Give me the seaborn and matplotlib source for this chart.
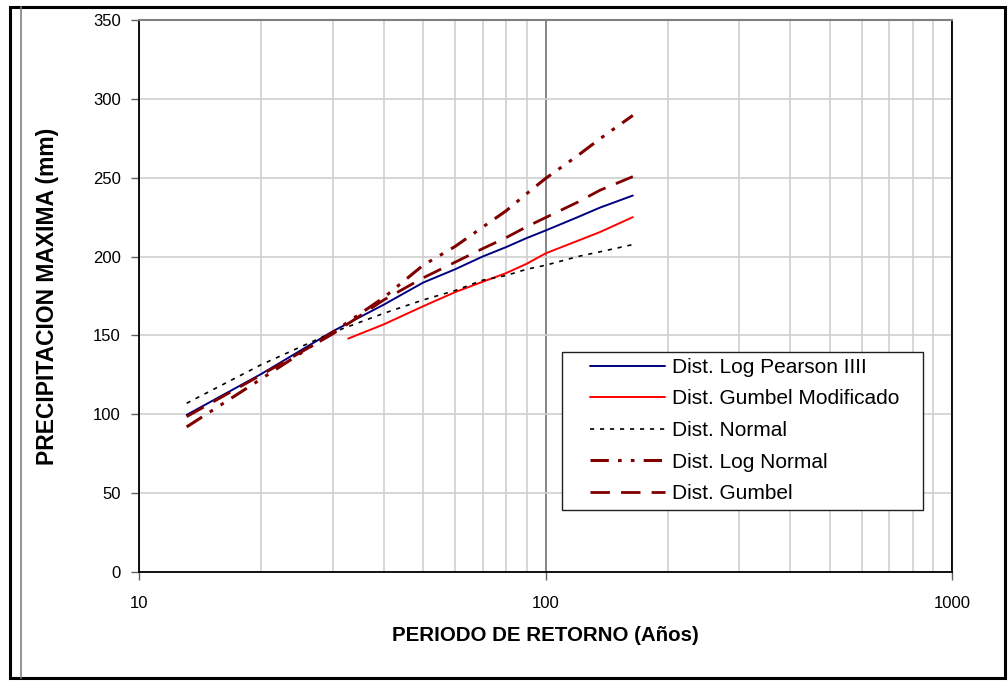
import matplotlib
matplotlib.use("Agg")
import matplotlib.pyplot as plt
from matplotlib.lines import Line2D
from matplotlib.patches import Rectangle
from matplotlib.ticker import FixedLocator, NullFormatter, LogLocator
import seaborn as sns
import pandas as pd

# ---- data ----
T = [13.1, 20, 30, 40, 50, 60, 70, 80, 90, 100, 120, 136, 164]
log_pearson = [99.6, 125.6, 152.7, 169.5, 183.5, 192.0, 200.0, 206.0, 211.8, 216.5, 225.0, 231.0, 238.7]
normal = [107.0, 131.5, 152.0, 164.0, 172.5, 178.5, 185.0, 188.0, 192.0, 194.5, 200.0, 203.0, 207.6]
log_normal = [92.0, 122.5, 152.0, 174.0, 194.5, 206.5, 218.6, 229.0, 240.0, 249.5, 264.0, 274.6, 289.5]
gumbel = [98.5, 125.0, 151.0, 172.5, 186.5, 196.5, 205.0, 212.0, 219.0, 224.7, 234.5, 242.0, 250.7]
T_mod = [32.7, 40, 50, 60, 70, 80, 90, 100, 120, 136, 164]
gumbel_mod = [148.0, 157.0, 168.5, 177.5, 184.0, 189.5, 195.5, 202.0, 210.0, 215.5, 225.0]

labels = ["Dist. Log Pearson IIII", "Dist. Gumbel Modificado", "Dist. Normal",
          "Dist. Log Normal", "Dist. Gumbel"]
y_ticks = [0, 50, 100, 150, 200, 250, 300, 350]
x_ticks = [10, 100, 1000]
x_ticklabels = ["10", "100", "1000"]

sns.set_theme(style="white")
plt.rcParams['font.family'] = ['Liberation Sans', 'DejaVu Sans']
plt.rcParams['text.color'] = 'black'
plt.rcParams['axes.labelcolor'] = 'black'

fig = plt.figure(figsize=(10.08, 6.83), dpi=100)
ax = fig.add_axes([139/1008, 1-572/683, (952-139)/1008, (572-20)/683])

series = [
    (T, log_pearson, "#000080", 1.4, None),
    (T_mod, gumbel_mod, "#FF0000", 1.4, None),
    (T, normal, "#000000", 1.2, (2.5, 3.5)),
    (T, log_normal, "#800000", 2.2, (6, 3, 1.2, 3, 1.2, 3)),
    (T, gumbel, "#800000", 2.0, (7, 4)),
]
handles = []
for (xs, ys, c, lw, dash), lab in zip(series, labels):
    df = pd.DataFrame({"T": xs, "P": ys})
    sns.lineplot(data=df, x="T", y="P", ax=ax, color=c, linewidth=lw, legend=False)
    ln = ax.lines[-1]
    if dash is not None:
        ln.set_dashes(dash)
    h = Line2D([], [], color=c, linewidth=lw)
    if dash is not None:
        h.set_dashes(dash)
    handles.append(h)

ax.set_xscale("log")
ax.set_xlim(10, 1000)
ax.set_ylim(0, 350)
ax.xaxis.set_major_locator(FixedLocator(x_ticks))
ax.set_xticklabels(x_ticklabels)
ax.xaxis.set_minor_locator(LogLocator(base=10, subs=range(2, 10)))
ax.xaxis.set_minor_formatter(NullFormatter())
ax.set_yticks(y_ticks)

ax.grid(False)
ax.yaxis.grid(True, color="#D0D0D0", linewidth=1.2)
ax.xaxis.grid(True, which="minor", color="#D0D0D0", linewidth=1.2)
ax.xaxis.grid(True, which="major", color="#707070", linewidth=1.2)
ax.set_axisbelow(True)

for s in ["left", "bottom", "right"]:
    ax.spines[s].set_color("black")
    ax.spines[s].set_linewidth(1.3)
ax.spines["top"].set_color("#808080")
ax.spines["top"].set_linewidth(1.5)

ax.tick_params(axis="both", which="major", direction="out", length=6, width=1,
               color="#606060", labelsize=12, labelcolor="black", pad=7,
               left=True, bottom=True)
ax.tick_params(axis="x", which="minor", length=0)
ax.tick_params(axis="x", which="major", pad=11)

ax.set_xlabel("PERIODO DE RETORNO (Años)", fontsize=14.8, fontweight="bold")
ax.set_ylabel("PRECIPITACION MAXIMA (mm)", fontsize=16.5, fontweight="bold")
ax.xaxis.set_label_coords(0.5, (572-626)/552)
ax.yaxis.set_label_coords((59-139)/813, 0.5)

# legend box (drawn as a patch in the axes) and legend entries without frame
box = Rectangle((562/1008, 1-510/683), (923-562)/1008, (510-352)/683,
                transform=fig.transFigure, facecolor="white",
                edgecolor="#202020", linewidth=1.0, zorder=8, clip_on=False)
ax.add_patch(box)
leg = ax.legend(handles, labels, loc="upper left",
                bbox_to_anchor=(590/1008, 1-358/683), bbox_transform=fig.transFigure,
                fontsize=15, frameon=False, handlelength=3.6, labelspacing=0.6,
                borderpad=0, handletextpad=0.35, borderaxespad=0)
leg.set_zorder(10)

# outer frame
fig.patches.append(Rectangle((10/1008, 1-678/683), (1005-10)/1008, (678-7)/683,
                             transform=fig.transFigure, fill=False,
                             edgecolor="black", linewidth=2.2))
fig.lines.append(Line2D([21/1008, 21/1008], [1-678/683, 1-7/683],
                        transform=fig.transFigure, color="#808080", linewidth=1.2))

fig.savefig("out.png", dpi=100)
